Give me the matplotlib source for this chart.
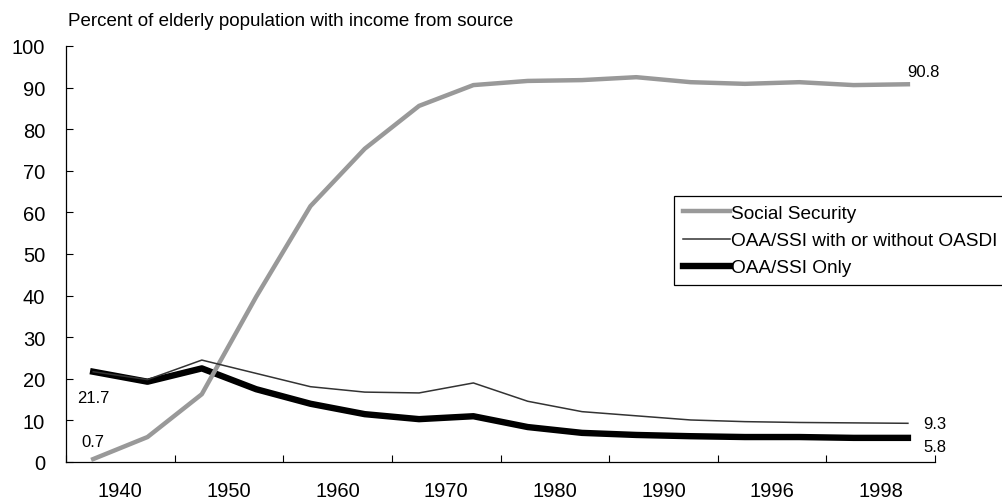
"""Percent of elderly population with income from Social Security and OAA/SSI."""

import matplotlib

matplotlib.use("Agg")
import matplotlib.pyplot as plt
from matplotlib.ticker import FixedLocator, NullFormatter

plt.rcParams["font.family"] = ["Liberation Sans", "DejaVu Sans"]

# 16 observations, labelled every second one on the axis
years = [1940, 1945, 1950, 1955, 1960, 1965, 1970, 1975,
         1980, 1985, 1990, 1994, 1996, 1997, 1998, 1999]
tick_labels = ["1940", "1950", "1960", "1970", "1980", "1990", "1996", "1998"]

social_security = [0.7, 6.0, 16.3, 39.7, 61.5, 75.3, 85.6, 90.6,
                   91.6, 91.8, 92.5, 91.3, 90.9, 91.3, 90.6, 90.8]
oaa_ssi_any = [21.7, 19.8, 24.5, 21.3, 18.1, 16.8, 16.6, 19.0,
               14.6, 12.1, 11.1, 10.1, 9.7, 9.5, 9.4, 9.3]
oaa_ssi_only = [21.7, 19.3, 22.5, 17.5, 14.0, 11.5, 10.3, 11.0,
                8.4, 7.0, 6.5, 6.2, 6.0, 6.0, 5.8, 5.8]

x = list(range(len(years)))

fig = plt.figure(figsize=(10.02, 5.02), dpi=100)
ax = fig.add_axes([0.0659, 0.0777, 0.8673, 0.8287])

ax.plot(x, social_security, color="#999999", linewidth=3.2,
        label="Social Security", zorder=3)
ax.plot(x, oaa_ssi_any, color="#333333", linewidth=1.1,
        label="OAA/SSI with or without OASDI", zorder=4)
ax.plot(x, oaa_ssi_only, color="black", linewidth=4.6,
        label="OAA/SSI Only", zorder=2)

ax.set_xlim(-0.5, len(years) - 0.5)
ax.set_ylim(0, 100)
ax.set_yticks(range(0, 101, 10))

# tick marks between pairs, labels centred on each pair
ax.xaxis.set_major_locator(FixedLocator([i - 0.5 for i in range(0, len(years) + 1, 2)]))
ax.xaxis.set_major_formatter(NullFormatter())
ax.xaxis.set_minor_locator(FixedLocator([i + 0.5 for i in range(0, len(years), 2)]))
ax.set_xticklabels(tick_labels, minor=True)
ax.tick_params(axis="x", which="major", direction="in", length=5, width=0.8)
ax.tick_params(axis="x", which="minor", length=0, pad=14, labelsize=14.5)
ax.tick_params(axis="y", direction="in", length=5, width=0.8, pad=15, labelsize=14.5)

for side in ("top", "right"):
    ax.spines[side].set_visible(False)
for side in ("left", "bottom"):
    ax.spines[side].set_linewidth(0.9)

last = len(years) - 1
label_kw = dict(textcoords="offset points", fontsize=12, ha="center", va="center")
ax.annotate(f"{social_security[0]}", (0, social_security[0]), xytext=(0, 13), **label_kw)
ax.annotate(f"{oaa_ssi_only[0]}", (0, oaa_ssi_only[0]), xytext=(0, -18.5), **label_kw)
ax.annotate(f"{social_security[last]}", (last, social_security[last]), xytext=(11, 9.5), **label_kw)
ax.annotate(f"{oaa_ssi_any[last]}", (last, oaa_ssi_any[last]), xytext=(19.5, 0), **label_kw)
ax.annotate(f"{oaa_ssi_only[last]}", (last, oaa_ssi_only[last]), xytext=(19.5, -6), **label_kw)

leg = ax.legend(loc="upper left", bbox_to_anchor=(0.6997, 0.639), borderaxespad=0,
                fontsize=13.7, handlelength=2.5, handletextpad=0.05,
                labelspacing=0.52, borderpad=0.45, fancybox=False,
                framealpha=1, edgecolor="black")
leg.get_frame().set_linewidth(0.9)

fig.text(0.068, 1 - 22 / 502, "Percent of elderly population with income from source",
         fontsize=13.5, va="center", ha="left")

fig.savefig("out.png", dpi=100)
